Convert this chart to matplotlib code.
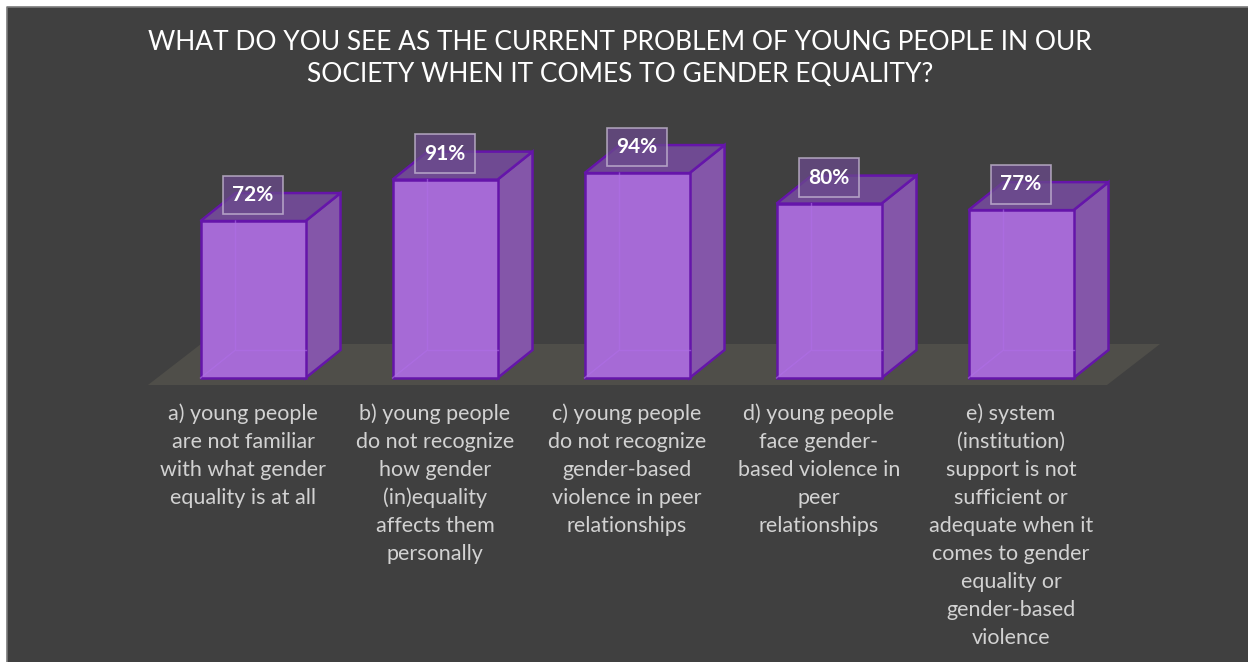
import numpy as np
import matplotlib
matplotlib.use("Agg")
import matplotlib.pyplot as plt
from matplotlib.patches import Polygon, Rectangle
from matplotlib.lines import Line2D

# ---- data ----
values = [72, 91, 94, 80, 77]
categories = [
    "a) young people\nare not familiar\nwith what gender\nequality is at all",
    "b) young people\ndo not recognize\nhow gender\n(in)equality\naffects them\npersonally",
    "c) young people\ndo not recognize\ngender-based\nviolence in peer\nrelationships",
    "d) young people\nface gender-\nbased violence in\npeer\nrelationships",
    "e) system\n(institution)\nsupport is not\nsufficient or\nadequate when it\ncomes to gender\nequality or\ngender-based\nviolence",
]
title = ("WHAT DO YOU SEE AS THE CURRENT PROBLEM OF YOUNG PEOPLE IN OUR\n"
         "SOCIETY WHEN IT COMES TO GENDER EQUALITY?")

# ---- style ----
BG = "#404040"
FLOOR = "#4f4e49"
FRONT = "#a66ad6"
SIDE = "#8456a9"
TOP = "#6f4a92"
EDGE = "#6515aa"
FONT = ["Lato", "DejaVu Sans"]

W, H = 1248, 662
XPX, YPX = 192.0, 2.18       # pixels per category step / per percent
x0px, y0px = 253, 378        # pixel position of bar 0 centre / zero line

fig = plt.figure(figsize=(W / 100, H / 100), dpi=100, facecolor="white")
fig.add_artist(Rectangle((7 / W, 0), 1, 1 - 7 / H, transform=fig.transFigure,
                         facecolor=BG, edgecolor="none", zorder=-5))
# thin lighter frame on left and top edges
fig.add_artist(Line2D([7 / W, 7 / W, 1], [0, 1 - 7 / H, 1 - 7 / H], transform=fig.transFigure,
                      color="#7a7a7a", lw=1.2, zorder=-4))

ax = fig.add_axes([0, 0, 1, 1])
ax.set_xlim(-x0px / XPX, (W - x0px) / XPX)
ax.set_ylim(-(H - y0px) / YPX, y0px / YPX)
ax.axis("off")
ax.patch.set_alpha(0)

bw = 105 / XPX          # bar width
ddx, ddy = 35 / XPX, 28 / YPX   # 3D depth offset

# floor
n = len(values)
fl, fr = -0.547, (n - 1) + 0.448
fb, ft = -7 / YPX, 34 / YPX
fsh = 53 / XPX
ax.add_patch(Polygon([(fl, fb), (fr, fb), (fr + fsh, ft), (fl + fsh, ft)],
                     closed=True, facecolor=FLOOR, edgecolor="none", zorder=1))

for i, v in enumerate(values):
    l, r = i - bw / 2, i + bw / 2
    side = Polygon([(r, 0), (r + ddx, ddy), (r + ddx, v + ddy), (r, v)], closed=True,
                   facecolor=SIDE, edgecolor=EDGE, lw=1.8, zorder=3)
    top = Polygon([(l, v), (r, v), (r + ddx, v + ddy), (l + ddx, v + ddy)], closed=True,
                  facecolor=TOP, edgecolor=EDGE, lw=1.8, zorder=3)
    front = Rectangle((l, 0), bw, v, facecolor=FRONT, edgecolor=EDGE, lw=1.8, zorder=4)
    ax.add_patch(side)
    ax.add_patch(top)
    ax.add_patch(front)
    # faint hidden back edges seen through the translucent box
    ax.plot([l, l + ddx, l + ddx], [0, ddy, v], color="#b06ee8", lw=1, alpha=0.6, zorder=5)
    ax.plot([l + ddx, r], [ddy, ddy], color="#b06ee8", lw=1, alpha=0.6, zorder=5)
    ax.text(i, v + 26 / YPX, f"{v}%", ha="center", va="center", color="white",
            fontsize=15, fontweight="bold", family=FONT, zorder=6,
            bbox=dict(boxstyle="square,pad=0.45", facecolor="#6a4a8c", alpha=0.75,
                      edgecolor="#c9bcd6", lw=1.2))
    ax.text(i - 10 / XPX, -25 / YPX, categories[i], ha="center", va="top",
            color="#d2d2d2", fontsize=15.5, family=FONT, linespacing=1.5, zorder=5)

fig.text(620 / W, 1 - 59 / H, title, ha="center", va="center", color="white",
         fontsize=19, family=FONT, linespacing=1.35)

fig.savefig("out.png", dpi=100, facecolor=fig.get_facecolor())
